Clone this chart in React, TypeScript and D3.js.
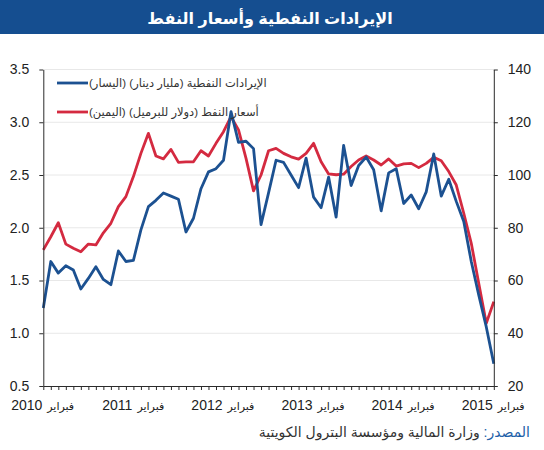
import { useEffect, useRef } from 'react'
import { select, scaleLinear, line, axisLeft, axisRight, axisBottom, range } from 'd3'

// monthly, Feb 2010 .. Feb 2015
const revenue = [
  1.24, 1.68, 1.57, 1.64, 1.6, 1.42, 1.52, 1.63, 1.51, 1.46, 1.78, 1.68, 1.69,
  1.98, 2.2, 2.26, 2.33, 2.3, 2.27, 1.96, 2.09, 2.37, 2.53, 2.56, 2.64,
  3.1, 2.81, 2.82, 2.75, 2.03, 2.33, 2.64, 2.62, 2.5, 2.38, 2.66, 2.29,
  2.19, 2.48, 2.1, 2.78, 2.4, 2.59, 2.67, 2.55, 2.16, 2.52, 2.56, 2.23,
  2.31, 2.18, 2.34, 2.7, 2.3, 2.46, 2.25, 2.06, 1.68, 1.36, 1.06, 0.71,
]
const oilPrice = [
  71.6, 76.6, 81.9, 73.8, 72.2, 70.9, 73.8, 73.5, 78.1, 81.7, 88.0, 91.8, 99.4,
  108.2, 115.8, 107.2, 106.1, 109.7, 104.8, 105.0, 105.0, 109.2, 107.2, 112.0, 116.4,
  122.1, 117.1, 106.3, 94.0, 100.0, 109.2, 110.1, 108.2, 106.9, 106.0, 108.2, 112.0,
  105.0, 100.4, 100.1, 100.3, 103.2, 105.7, 107.2, 105.7, 103.8, 106.1, 103.4, 104.2,
  104.4, 102.8, 104.4, 106.7, 105.4, 101.3, 96.2, 85.5, 74.1, 58.9, 43.8, 52.0,
]
const years = ['2010', '2011', '2012', '2013', '2014', '2015']
const monthLabel = 'فبراير'
const leftTicks = [0.5, 1.0, 1.5, 2.0, 2.5, 3.0, 3.5]
const rightTicks = [20, 40, 60, 80, 100, 120, 140]
const legendNames = ['الإيرادات النفطية (مليار دينار) (اليسار)', 'أسعار النفط (دولار للبرميل) (اليمين)']
const title = 'الإيرادات النفطية وأسعار النفط'
const sourceLabel = 'المصدر: '
const sourceText = 'وزارة المالية ومؤسسة البترول الكويتية'

const font = "'Liberation Sans', 'DejaVu Sans', Arial, sans-serif"
const blue = '#1c5191'
const red = '#d42a40'

export default function App() {
  const svgRef = useRef<SVGSVGElement | null>(null)
  const left = 43.3, right = 493.8, top = 69.5, bottom = 386

  useEffect(() => {
    const svg = select(svgRef.current)
    const x = scaleLinear().domain([0, revenue.length - 1]).range([left, right])
    const yL = scaleLinear().domain([0.5, 3.5]).range([bottom, top])
    const yR = scaleLinear().domain([20, 140]).range([bottom, top])

    svg
      .select('.grid')
      .selectAll('line')
      .data(leftTicks.slice(1))
      .join('line')
      .attr('x1', left)
      .attr('x2', right)
      .attr('y1', (d) => yL(d))
      .attr('y2', (d) => yL(d))
      .attr('stroke', '#e8e8e8')
      .attr('stroke-width', 1)

    const styleAxis = (g: any) => {
      g.select('.domain').attr('stroke', '#2b2b2b')
      g.selectAll('.tick line').attr('stroke', '#2b2b2b')
      g.selectAll('text').attr('fill', '#222').attr('font-size', 14).attr('font-family', font)
    }

    svg
      .select('.y-left')
      .attr('transform', `translate(${left},0)`)
      .call(axisLeft(yL).tickValues(leftTicks).tickFormat((d: any) => d.toFixed(1)).tickSize(4).tickSizeOuter(0).tickPadding(10) as any)
      .call(styleAxis)
    svg
      .select('.y-right')
      .attr('transform', `translate(${right},0)`)
      .call(axisRight(yR).tickValues(rightTicks).tickSize(4).tickSizeOuter(0).tickPadding(10) as any)
      .call(styleAxis)
    svg
      .select('.x-axis')
      .attr('transform', `translate(0,${bottom})`)
      .call(axisBottom(x).tickValues(range(revenue.length)).tickFormat(() => '').tickSize(4).tickSizeOuter(0) as any)
      .call(styleAxis)

    const xl = svg.select('.x-labels')
    xl.selectAll('text.yr')
      .data(years)
      .join('text')
      .attr('class', 'yr')
      .attr('x', (_, i) => x(i * 12) - 1)
      .attr('y', 410)
      .attr('text-anchor', 'end')
      .attr('font-size', 14)
      .attr('font-family', font)
      .attr('fill', '#222')
      .text((d) => d)
    xl.selectAll('text.mo')
      .data(years)
      .join('text')
      .attr('class', 'mo')
      .attr('x', (_, i) => x(i * 12) + 4)
      .attr('y', 410)
      .attr('text-anchor', 'start')
      .attr('font-size', 11)
      .attr('font-family', font)
      .attr('fill', '#222')
      .text(monthLabel)

    const lineL = line<number>().x((_, i) => x(i)).y((d) => yL(d))
    const lineR = line<number>().x((_, i) => x(i)).y((d) => yR(d))
    svg
      .select('.series')
      .selectAll('path')
      .data([
        { d: lineR(oilPrice), c: red },
        { d: lineL(revenue), c: blue },
      ])
      .join('path')
      .attr('d', (s) => s.d as string)
      .attr('fill', 'none')
      .attr('stroke', (s) => s.c)
      .attr('stroke-width', 2.8)
      .attr('stroke-linejoin', 'round')
  }, [])

  return (
    <svg
      ref={svgRef}
      width={544}
      height={450}
      style={{ position: 'absolute', left: 0, top: 0, background: '#fff' }}
    >
      <rect x={0} y={0} width={544} height={34} fill="#154e90" />
      <text x={270} y={24} textAnchor="middle" fill="#fff" fontSize={16} fontWeight="bold" fontFamily={font} direction="rtl">
        {title}
      </text>
      <g className="grid" />
      <g className="series" />
      <g className="y-left" />
      <g className="y-right" />
      <g className="x-axis" />
      <g className="x-labels" />
      <g className="legend">
        {legendNames.map((name, i) => (
          <g key={name} transform={`translate(57,${83 + i * 29})`}>
            <line x1={0} x2={31} y1={0} y2={0} stroke={i === 0 ? blue : red} strokeWidth={2.8} />
            <text x={32} y={4} fontSize={11.5} fontFamily={font} fill="#333" direction="rtl" textAnchor="end">
              {name}
            </text>
          </g>
        ))}
      </g>
      <text x={530} y={437} fontSize={14} fontFamily={font} direction="rtl" textAnchor="start" fill="#333">
        <tspan fill="#2160a8">{sourceLabel}</tspan>
        <tspan>{sourceText}</tspan>
      </text>
    </svg>
  )
}
